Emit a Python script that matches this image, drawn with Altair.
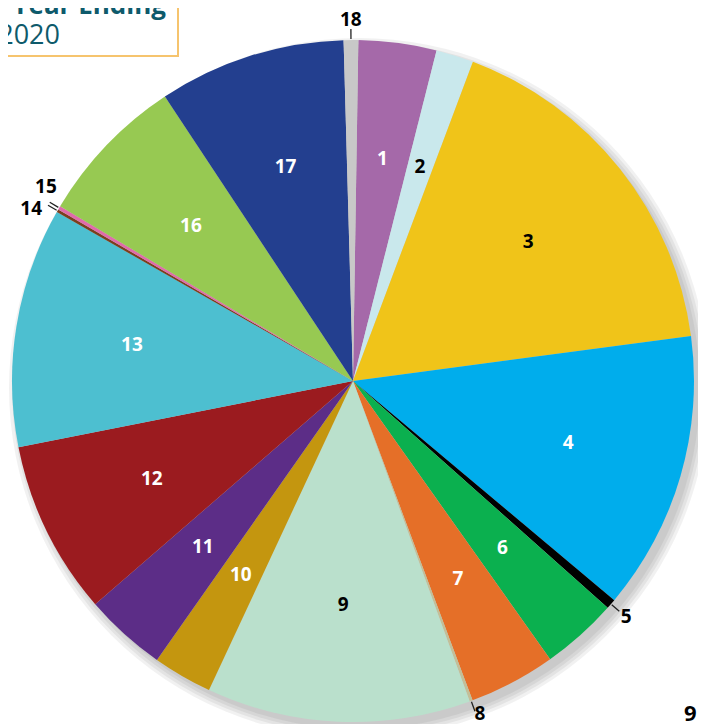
import math
import altair as alt
import pandas as pd

# ---- data ----
labels = [str(i) for i in range(1, 19)]
shares = [3.69, 1.78, 17.17, 13.22, 0.47, 3.61, 4.11, 0.14, 12.50,
          2.81, 3.89, 8.25, 11.36, 0.14, 0.17, 7.14, 8.86, 0.69]
colors = ["#A569A9", "#C9E8EC", "#F0C419", "#00ADEC", "#000000", "#0BB04F",
          "#E56F28", "#C2BF98", "#BAE0CC", "#C4960F", "#5C2D87", "#9B1B1F",
          "#4DBFD0", "#7B3F1E", "#E06BAA", "#97C952", "#233F8F", "#C8C8C8"]
label_colors = ["white", "black", "black", "white", "black", "white",
                "white", "black", "black", "white", "white", "white",
                "white", "black", "black", "white", "white", "black"]
inside = [True, True, True, True, False, True, True, False, True,
          True, True, True, True, False, False, True, True, False]
title_line1 = "Year Ending"
title_line2 = "2020"
corner_text = "9"

# ---- layout ----
W, H = 690, 716
CX, CY = 345, 373
R = 341
START_DEG = 0.9
FONT = "Open Sans"

df = pd.DataFrame({"label": labels, "share": shares, "color": colors,
                   "tcolor": label_colors, "inside": inside})
df["end"] = df["share"].cumsum()
df["start"] = df["end"] - df["share"]
df["mid"] = (df["start"] + df["end"]) / 2
df["tick_a"] = df["mid"] - 0.03
df["tick_b"] = df["mid"] + 0.03
total = float(df["share"].sum())

a0 = math.radians(START_DEG)
th_scale = alt.Scale(domain=[0, total], range=[a0, a0 + 2 * math.pi])

base = alt.Chart(df)

# soft shadow (mostly toward the lower right)
shadow_layers = []
for r in [341, 344, 347, 350]:
    shadow_layers.append(
        alt.Chart(pd.DataFrame({"k": [0]})).mark_arc(
            radius=r, theta=0, theta2=2 * math.pi, color="black", opacity=0.055
        ).encode(x=alt.value(CX + 6), y=alt.value(CY + 7))
    )

pie = base.mark_arc(radius=R).encode(
    theta=alt.Theta("start:Q", scale=th_scale),
    theta2="end:Q",
    color=alt.Color("label:N", scale=alt.Scale(domain=labels, range=colors), legend=None),
    x=alt.value(CX), y=alt.value(CY),
)

inner_text = base.transform_filter("datum.inside").mark_text(
    radius=224, fontSize=19, fontWeight="bold", font=FONT,
    align="center", baseline="middle"
).encode(
    theta=alt.Theta("mid:Q", scale=th_scale),
    text="label:N",
    color=alt.Color("tcolor:N", scale=None),
    x=alt.value(CX), y=alt.value(CY),
)

ticks = base.transform_filter("!datum.inside").mark_arc(
    radius=342, radius2=352, color="#222222"
).encode(
    theta=alt.Theta("tick_a:Q", scale=th_scale),
    theta2="tick_b:Q",
    x=alt.value(CX), y=alt.value(CY),
)

def outer(filter_expr, dx=0, dy=0):
    return base.transform_filter(filter_expr).mark_text(
        radius=361, fontSize=19, fontWeight="bold", font=FONT,
        align="center", baseline="middle", dx=dx, dy=dy, color="black"
    ).encode(
        theta=alt.Theta("mid:Q", scale=th_scale),
        text="label:N",
        x=alt.value(CX), y=alt.value(CY),
    )

out_main = outer("datum.label == '18' || datum.label == '5'")
out8 = outer("datum.label == '8'", dx=2, dy=-6)
out14 = outer("datum.label == '14'", dx=-9, dy=8)
out15 = outer("datum.label == '15'", dx=4, dy=-11)

one = pd.DataFrame({"k": [0]})
title_box = alt.Chart(one).mark_rect(
    fill="white", stroke="#F6C46E", strokeWidth=2
).encode(x=alt.value(-20), x2=alt.value(170), y=alt.value(-20), y2=alt.value(48))

t1 = alt.Chart(one).mark_text(
    text=title_line1, font=FONT, fontWeight="bold", fontSize=26,
    color="#0E5A6B", align="right", baseline="alphabetic"
).encode(x=alt.value(158), y=alt.value(6))

t2 = alt.Chart(one).mark_text(
    text=title_line2, font=FONT, fontSize=27,
    color="#0E5A6B", align="right", baseline="alphabetic"
).encode(x=alt.value(52), y=alt.value(36))

t9 = alt.Chart(one).mark_text(
    text=corner_text, font=FONT, fontWeight="bold", fontSize=22,
    color="black", align="left", baseline="top"
).encode(x=alt.value(676), y=alt.value(696))

chart = alt.layer(
    *shadow_layers, pie, inner_text, ticks, out_main, out8, out14, out15,
    title_box, t1, t2, t9
).properties(
    width=W, height=H, padding=0, autosize=alt.AutoSizeParams(type="none")
).configure_view(stroke=None)

chart.save("out.html", embed_options={"renderer": "svg", "actions": False})
